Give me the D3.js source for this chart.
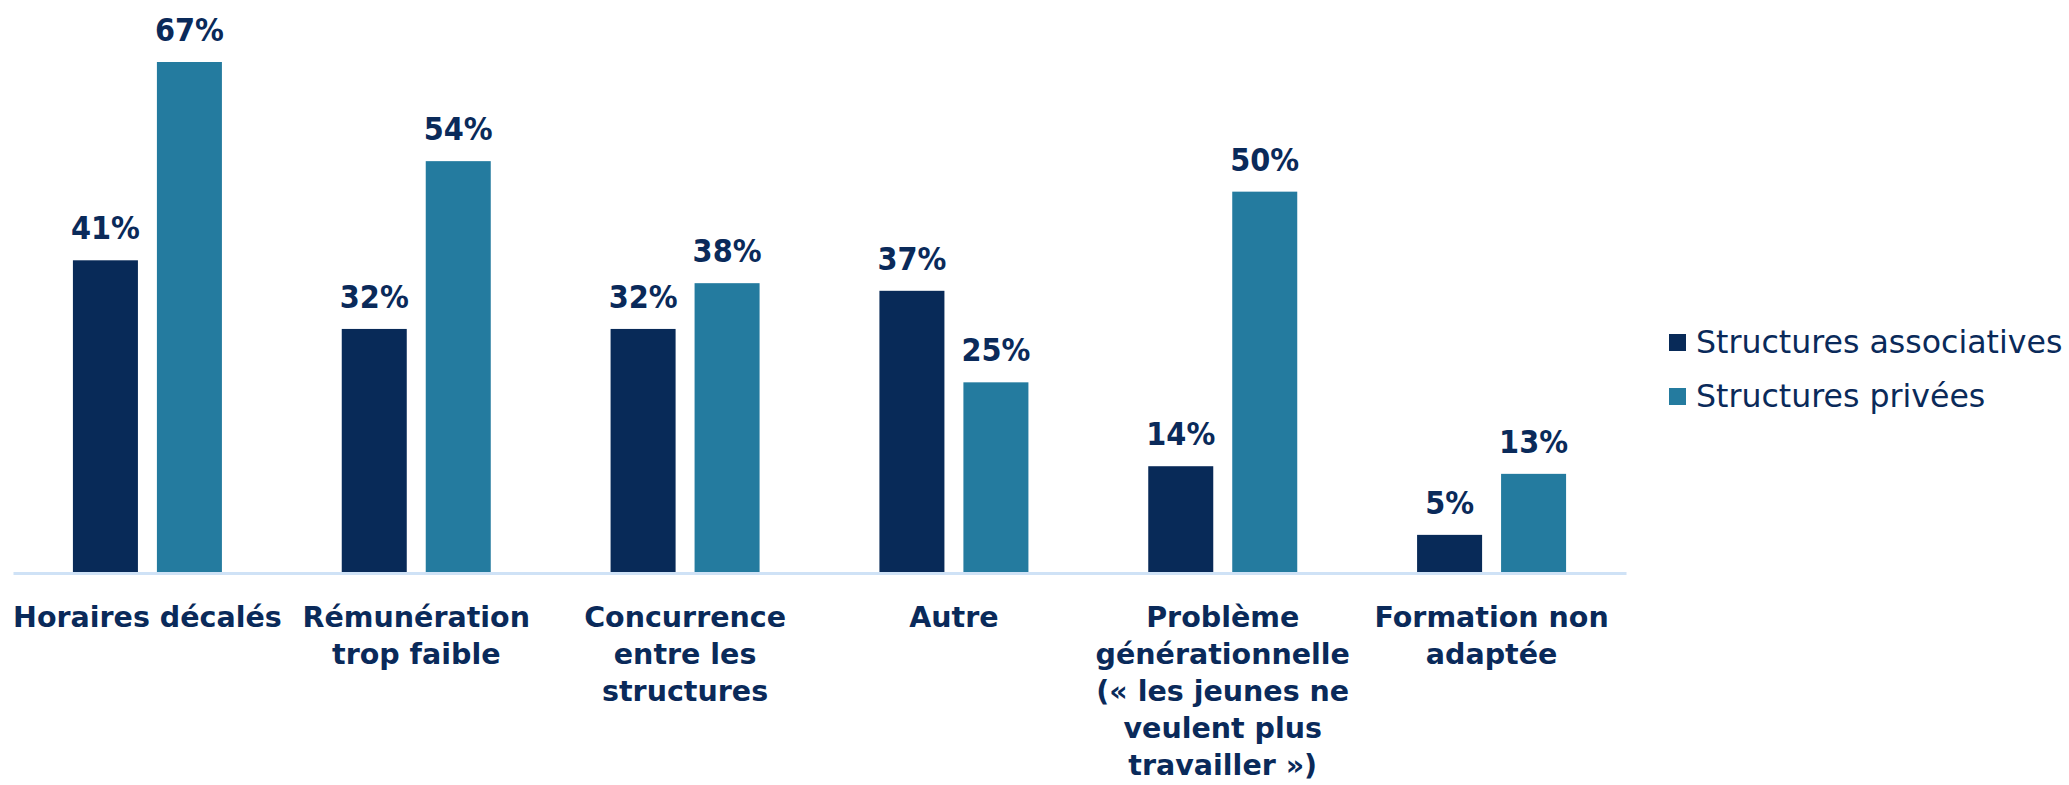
<!DOCTYPE html>
<html>
<head>
<meta charset="utf-8">
<script src="https://cdn.jsdelivr.net/npm/d3@7"></script>
<style>
  html, body { margin: 0; padding: 0; background: #fff; }
  #chart { width: 2069px; height: 785px; }
  text { font-family: "DejaVu Sans", sans-serif; fill: #0a2a5a; }
</style>
</head>
<body>
<div id="chart"></div>
<script>
// Difficultés de recrutement, par type de structure
const categories = [
    "Horaires décalés", "Rémunération trop faible", "Concurrence entre les structures",
    "Autre", "Problème générationnelle", "Formation non adaptée"
];
const categoryLines = [
    ["Horaires décalés"],
    ["Rémunération", "trop faible"],
    ["Concurrence", "entre les", "structures"],
    ["Autre"],
    ["Problème", "générationnelle", "(« les jeunes ne", "veulent plus", "travailler »)"],
    ["Formation non", "adaptée"]
];
const seriesNames = ["Structures associatives", "Structures privées"];
const associatives = [41, 32, 32, 37, 14, 5];
const privees = [67, 54, 38, 25, 50, 13];

(() => {
    const W = 2069, H = 785;
    const base = 573;
    const groupW = 149;
    const colors = ["#082a58", "#247b9f"];

    const svg = d3.select("#chart").append("svg").attr("width", W).attr("height", H);

    const x0 = d3.scaleBand().domain(categories).range([13, 1626]);
    const x1 = d3.scaleBand().domain(seriesNames).range([0, groupW]).paddingInner(0.226);
    const y = d3.scaleLinear().domain([0, 67]).range([base, 62]);

    const rows = categories.map((c, i) => ({ cat: c, vals: [associatives[i], privees[i]] }));
    const color = d3.scaleOrdinal().domain(seriesNames).range(colors);

    const groups = svg.append("g").selectAll("g").data(rows).join("g")
        .attr("transform", d => `translate(${x0(d.cat) + (x0.bandwidth() - groupW) / 2},0)`);

    groups.selectAll("rect")
        .data(d => d.vals.map((v, j) => ({ s: seriesNames[j], v })))
        .join("rect")
        .attr("x", d => x1(d.s))
        .attr("width", x1.bandwidth())
        .attr("y", d => y(d.v))
        .attr("height", d => base - y(d.v))
        .attr("fill", d => color(d.s));

    groups.selectAll("text.val")
        .data(d => d.vals.map((v, j) => ({ s: seriesNames[j], v })))
        .join("text").attr("class", "val")
        .attr("x", d => x1(d.s) + x1.bandwidth() / 2)
        .attr("y", d => y(d.v) - 21)
        .attr("text-anchor", "middle")
        .style("font-family", '"DejaVu Sans Condensed", "DejaVu Sans", sans-serif')
        .style("font-size", "32px").style("font-weight", "bold")
        .text(d => d.v + "%");

    // axe du bas
    const axis = svg.append("g").attr("transform", `translate(0,${base})`)
        .call(d3.axisBottom(x0).tickSize(0).tickFormat(""));
    axis.select(".domain").attr("stroke", "#cfe2f6").attr("stroke-width", 3);
    axis.selectAll(".tick text").remove();

    axis.selectAll(".tick").append("text")
        .attr("text-anchor", "middle")
        .style("font-size", "28.5px").style("font-weight", "bold")
        .each(function (d) {
            const lines = categoryLines[categories.indexOf(d)];
            d3.select(this).selectAll("tspan").data(lines).join("tspan")
                .attr("x", 0).attr("y", (l, i) => 54 + i * 37).text(l => l);
        });

    // légende
    const legend = svg.append("g").attr("transform", "translate(1669,334)");
    legend.selectAll("g").data(seriesNames).join("g")
        .attr("transform", (d, i) => `translate(0,${i * 54})`)
        .call(g => {
            g.append("rect").attr("width", 17).attr("height", 17).attr("fill", d => color(d));
            g.append("text").attr("x", 27).attr("y", 19).style("font-size", "31.6px").text(d => d);
        });
})();
</script>
</body>
</html>
